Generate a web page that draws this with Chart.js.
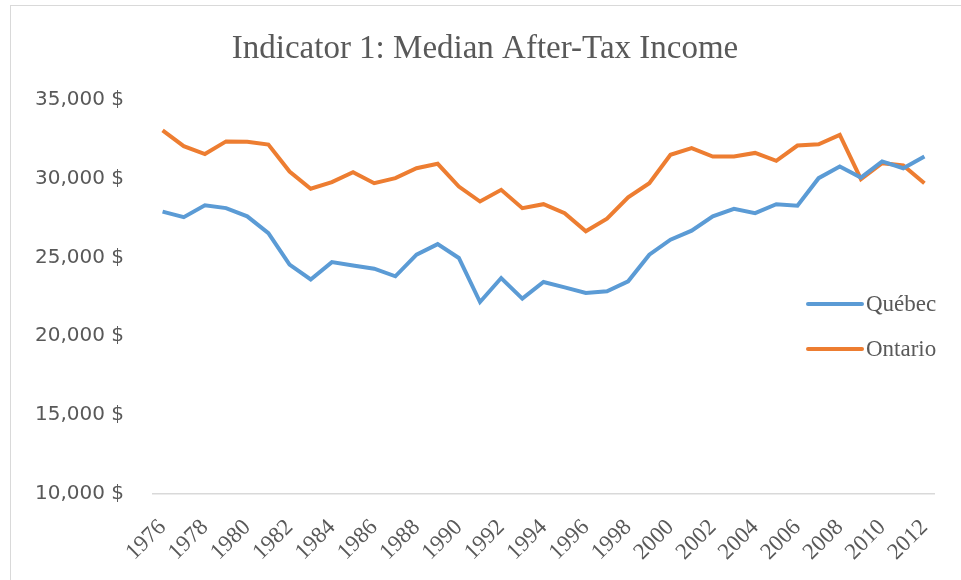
<!DOCTYPE html>
<html>
<head>
<meta charset="utf-8">
<script src="https://cdn.jsdelivr.net/npm/chart.js@4.4.1/dist/chart.umd.min.js"></script>
<style>
  body { margin: 0; background: #fff; }
  #marco { position: absolute; left: 10px; top: 5px; width: 970px; height: 600px; border: 1.5px solid #d9d9d9; }
  #caja { position: absolute; left: 0; top: 0; width: 961px; height: 580px; }
</style>
</head>
<body>
<div id="marco"></div>
<div id="caja"><canvas id="ingreso"></canvas></div>
<script>
const anios = [
  "1976", "1977", "1978", "1979", "1980", "1981", "1982", "1983", "1984", "1985",
  "1986", "1987", "1988", "1989", "1990", "1991", "1992", "1993", "1994", "1995",
  "1996", "1997", "1998", "1999", "2000", "2001", "2002", "2003", "2004", "2005",
  "2006", "2007", "2008", "2009", "2010", "2011", "2012"
];
const quebec = [
  27900, 27550, 28300, 28120, 27600, 26540, 24540, 23600, 24700, 24490,
  24280, 23800, 25170, 25840, 24960, 22170, 23690, 22380, 23440, 23100,
  22740, 22850, 23480, 25170, 26120, 26690, 27600, 28080, 27800, 28370,
  28270, 30020, 30760, 30060, 31080, 30650, 31390
];
const ontario = [
  33050, 32050, 31550, 32350, 32330, 32150, 30440, 29350, 29770, 30400,
  29700, 30020, 30650, 30930, 29490, 28540, 29280, 28120, 28370, 27800,
  26650, 27450, 28800, 29700, 31500, 31920, 31390, 31390, 31620, 31120,
  32090, 32170, 32760, 29960, 30970, 30820, 29700
];
const series_nombres = ["Québec", "Ontario"];
const titulo = "Indicator 1: Median After-Tax Income";

const gris = "#595959";

// leyenda dibujada dentro del area del grafico (como en Excel)
const plugin_leyenda = {
  id: "leyendaDerecha",
  afterDraw: (chart) => {
    const ctx = chart.ctx;
    const x0 = 808;
    const ys = [304, 349];
    ctx.save();
    chart.data.datasets.forEach((ds, i) => {
      ctx.strokeStyle = ds.borderColor;
      ctx.lineWidth = 4;
      ctx.lineCap = "round";
      ctx.beginPath();
      ctx.moveTo(x0, ys[i]);
      ctx.lineTo(x0 + 54, ys[i]);
      ctx.stroke();
      ctx.fillStyle = gris;
      ctx.font = "23px 'Liberation Serif'";
      ctx.textBaseline = "middle";
      ctx.textAlign = "left";
      ctx.fillText(ds.label, x0 + 58, ys[i] + 1);
    });
    ctx.restore();
  },
};

const ctx = document.getElementById("ingreso").getContext("2d");
const chart_ingreso = new Chart(ctx, {
  type: "line",
  data: {
    labels: anios,
    datasets: [
      {
        label: series_nombres[0],
        data: quebec,
        borderColor: "#5B9BD5",
        borderWidth: 4,
        pointRadius: 0,
        tension: 0,
      },
      {
        label: series_nombres[1],
        data: ontario,
        borderColor: "#ED7D31",
        borderWidth: 4,
        pointRadius: 0,
        tension: 0,
      },
    ],
  },
  options: {
    responsive: true,
    maintainAspectRatio: false,
    animation: false,
    layout: { padding: { left: 35, right: 26, top: 0, bottom: 0 } },
    plugins: {
      title: {
        display: true,
        text: titulo,
        color: gris,
        font: { family: "'Liberation Serif'", size: 33, weight: "normal" },
        padding: { top: 30, bottom: 30 },
      },
      legend: { display: false },
      tooltip: { enabled: false },
    },
    scales: {
      x: {
        offset: true,
        grid: { display: false },
        border: { display: false },
        ticks: {
          autoSkip: false,
          minRotation: 45,
          maxRotation: 45,
          color: gris,
          font: { family: "'Liberation Serif'", size: 23 },
          padding: 12,
          callback: function (value, index) {
            return index % 2 === 0 ? this.getLabelForValue(value) : "";
          },
        },
        afterFit: (scale) => {
          scale.height = 86;
        },
      },
      y: {
        min: 10000,
        max: 35000,
        border: { display: false },
        grid: {
          color: (c) => (c.tick && c.tick.value === 10000 ? "#d9d9d9" : "rgba(0,0,0,0)"),
          lineWidth: 1.5,
          drawTicks: false,
        },
        ticks: {
          stepSize: 5000,
          crossAlign: "far",
          color: gris,
          font: { family: "'DejaVu Sans'", size: 20 },
          callback: function (value) {
            return value.toLocaleString("en-US") + " $";
          },
        },
        afterFit: (scale) => {
          scale.width = 117;
        },
      },
    },
  },
  plugins: [plugin_leyenda],
});
</script>
</body>
</html>
